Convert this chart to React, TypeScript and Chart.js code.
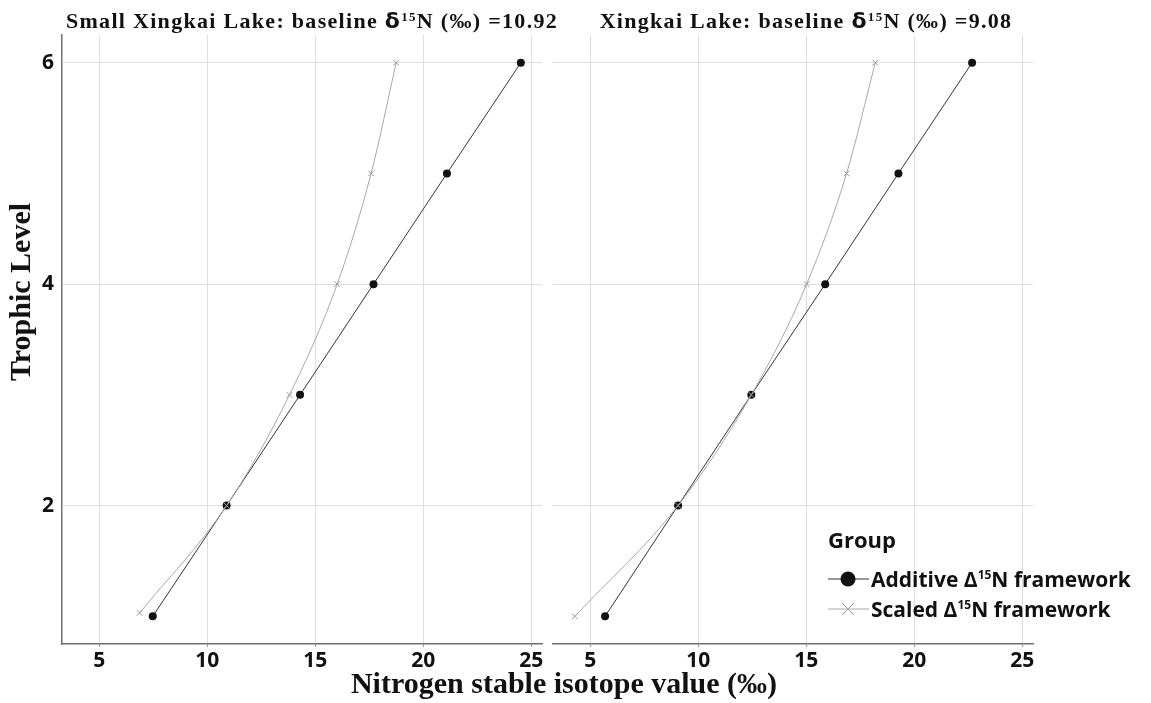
import React, { useEffect, useRef } from 'react';
import { Chart, registerables } from 'chart.js';

Chart.register(...registerables);

// ---- data ----
const trophicLevels = [1, 2, 3, 4, 5, 6];
const smallScaledLevels = [1.03, 2, 3, 4, 5, 6];
const smallAdditive = [7.48, 10.9, 14.3, 17.7, 21.1, 24.52];
const smallScaled = [6.87, 10.9, 13.81, 16.02, 17.59, 18.75];
const largeAdditive = [5.69, 9.07, 12.46, 15.88, 19.27, 22.68];
const largeScaled = [4.29, 9.07, 12.46, 15.02, 16.87, 18.2];
const xTickValues = [5, 10, 15, 20, 25];
const yTickValues = [2, 4, 6];
const seriesLabels = ['Additive \u0394\u00b9\u2075N framework', 'Scaled \u0394\u00b9\u2075N framework'];
const legendTitle = 'Group';
const lakeNames = ['Small Xingkai Lake', 'Xingkai Lake'];
const baselineValues = ['10.92', '9.08'];
const xAxisTitle = 'Nitrogen stable isotope value (\u2030)';
const yAxisTitle = 'Trophic Level';

const TICK_FONT = { family: "'Open Sans', sans-serif", weight: 'bold' as const, size: 21 };
const SUPERS: Record<string, string> = { '\u00b9': '1', '\u2075': '5' };

function drawRichText(ctx: CanvasRenderingContext2D, text: string, x: number, y: number) {
  const base = "bold 21px 'Open Sans', sans-serif";
  const small = "bold 12px 'Open Sans', sans-serif";
  let cx = x;
  let buf = '';
  const flush = () => {
    if (!buf) return;
    ctx.font = base;
    ctx.fillText(buf, cx, y);
    cx += ctx.measureText(buf).width;
    buf = '';
  };
  for (const ch of text) {
    if (SUPERS[ch]) {
      flush();
      ctx.font = small;
      ctx.fillText(SUPERS[ch], cx, y - 8);
      cx += ctx.measureText(SUPERS[ch]).width;
    } else {
      buf += ch;
    }
  }
  flush();
}

const legendPlugin = {
  id: 'insideLegend',
  afterDraw(chart: any) {
    const ctx = chart.ctx as CanvasRenderingContext2D;
    ctx.save();
    ctx.fillStyle = '#111';
    ctx.font = "bold 22px 'Open Sans', sans-serif";
    ctx.textAlign = 'left';
    ctx.textBaseline = 'alphabetic';
    ctx.fillText(legendTitle, 280, 548);
    const rows = [579, 609];
    chart.data.datasets.forEach((ds: any, i: number) => {
      const cy = rows[i];
      ctx.strokeStyle = ds.borderColor;
      ctx.lineWidth = 1;
      ctx.beginPath();
      ctx.moveTo(280, cy);
      ctx.lineTo(321, cy);
      ctx.stroke();
      if (ds.pointStyle === 'circle') {
        ctx.fillStyle = ds.pointBackgroundColor;
        ctx.beginPath();
        ctx.arc(300, cy, 7.5, 0, Math.PI * 2);
        ctx.fill();
      } else {
        ctx.strokeStyle = ds.pointBorderColor;
        ctx.beginPath();
        ctx.moveTo(294, cy - 6);
        ctx.lineTo(306, cy + 6);
        ctx.moveTo(306, cy - 6);
        ctx.lineTo(294, cy + 6);
        ctx.stroke();
      }
      ctx.fillStyle = '#111';
      drawRichText(ctx, ds.label, 323, cy + 8);
    });
    ctx.restore();
  },
};

function toPoints(xs: number[], ys: number[]) {
  return xs.map((x, i) => ({ x, y: ys[i] }));
}

function makeConfig(additive: number[], scaled: number[], scaledLevels: number[], isLeft: boolean): any {
  return {
    type: 'scatter',
    data: {
      datasets: [
        {
          label: seriesLabels[0],
          data: toPoints(additive, trophicLevels),
          showLine: true,
          borderColor: '#333',
          borderWidth: 1,
          pointStyle: 'circle',
          pointRadius: 4,
          pointBackgroundColor: '#111',
          pointBorderColor: '#111',
          pointBorderWidth: 0,
          order: 1,
        },
        {
          label: seriesLabels[1],
          data: toPoints(scaled, scaledLevels),
          showLine: true,
          borderColor: '#a8a8a8',
          borderWidth: 1,
          cubicInterpolationMode: 'monotone',
          pointStyle: 'crossRot',
          pointRadius: 4,
          pointBackgroundColor: '#999',
          pointBorderColor: '#999',
          pointBorderWidth: 1,
          order: 0,
        },
      ],
    },
    options: {
      animation: false,
      responsive: false,
      devicePixelRatio: 1,
      layout: { padding: { top: 35, right: isLeft ? 6 : 118, left: 0, bottom: 0 } },
      plugins: { legend: { display: false }, tooltip: { enabled: false } },
      scales: {
        x: {
          type: 'linear',
          min: 3.28,
          max: 25.5,
          afterBuildTicks: (axis: any) => {
            axis.ticks = xTickValues.map((v) => ({ value: v }));
          },
          afterFit: (axis: any) => {
            axis.height = 59;
          },
          grid: { color: '#dedede', lineWidth: 1, drawTicks: true, tickLength: 3, tickColor: '#999' },
          border: { display: true, color: '#707070', width: 1.5 },
          ticks: { font: TICK_FONT, color: '#111', padding: 1, maxRotation: 0, autoSkip: false },
        },
        y: {
          type: 'linear',
          min: 0.75,
          max: 6.25,
          afterBuildTicks: (axis: any) => {
            axis.ticks = yTickValues.map((v) => ({ value: v }));
          },
          afterFit: (axis: any) => {
            axis.width = isLeft ? 62 : 5;
          },
          grid: { color: '#dedede', lineWidth: 1, drawTicks: false },
          border: { display: isLeft, color: '#707070', width: 1.5 },
          ticks: { display: isLeft, font: TICK_FONT, color: '#111', padding: 8 },
        },
      },
    },
    plugins: isLeft ? [] : [legendPlugin],
  };
}

const serifBold: React.CSSProperties = {
  fontFamily: "'Liberation Serif', 'Times New Roman', serif",
  fontWeight: 'bold',
  color: '#111',
  whiteSpace: 'nowrap',
  position: 'absolute',
};

function PanelTitle({ name, value, center }: { name: string; value: string; center: number }) {
  return (
    <div
      style={{
        ...serifBold,
        left: center - 300,
        width: 600,
        top: 10,
        textAlign: 'center',
        fontSize: 22,
        lineHeight: '22px',
        letterSpacing: '1.3px',
      }}
    >
      {name}: baseline{' '}
      <span style={{ fontFamily: "'DejaVu Sans', sans-serif", fontSize: 22 }}>{'\u03b4'}</span>
      <span style={{ fontSize: 13, position: 'relative', top: -7 }}>15</span>N ({'\u2030'}) ={value}
    </div>
  );
}

export default function App() {
  const leftRef = useRef<HTMLCanvasElement>(null);
  const rightRef = useRef<HTMLCanvasElement>(null);

  useEffect(() => {
    const c1 = new Chart(leftRef.current as HTMLCanvasElement, makeConfig(smallAdditive, smallScaled, smallScaledLevels, true));
    const c2 = new Chart(rightRef.current as HTMLCanvasElement, makeConfig(largeAdditive, largeScaled, trophicLevels, false));
    return () => {
      c1.destroy();
      c2.destroy();
    };
  }, []);

  return (
    <div style={{ position: 'absolute', left: 0, top: 0, width: 1151, height: 703, background: '#fff', overflow: 'hidden' }}>
      <canvas ref={leftRef} width={548} height={703} style={{ position: 'absolute', left: 0, top: 0, display: 'block' }} />
      <canvas ref={rightRef} width={603} height={703} style={{ position: 'absolute', left: 548, top: 0, display: 'block' }} />
      <PanelTitle name={lakeNames[0]} value={baselineValues[0]} center={312} />
      <PanelTitle name={lakeNames[1]} value={baselineValues[1]} center={806} />
      <div
        style={{
          ...serifBold,
          fontSize: 30,
          lineHeight: '30px',
          left: 564 - 300,
          width: 600,
          top: 668,
          textAlign: 'center',
        }}
      >
        {xAxisTitle}
      </div>
      <div
        style={{
          ...serifBold,
          fontSize: 30,
          lineHeight: '30px',
          left: 20,
          top: 292,
          transform: 'translate(-50%, -50%) rotate(-90deg)',
        }}
      >
        {yAxisTitle}
      </div>
    </div>
  );
}
